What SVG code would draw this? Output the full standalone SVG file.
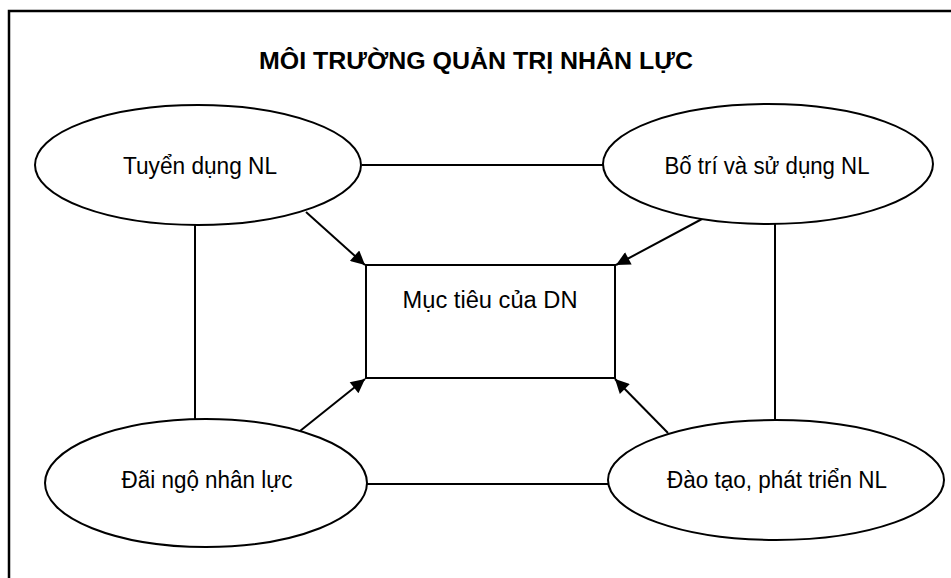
<svg xmlns="http://www.w3.org/2000/svg" width="951" height="578" viewBox="0 0 951 578">
<style>
  .shape { fill: #fff; stroke: #000; stroke-width: 2; }
  .lbl { font-family: "Liberation Sans", Arial, sans-serif; font-size: 23px; fill: #000; text-anchor: middle; }
  .title { font-family: "Liberation Sans", Arial, sans-serif; font-size: 24px; font-weight: bold; fill: #000; text-anchor: middle; }
  .conn { stroke: #000; stroke-width: 2; fill: none; }
</style>
<defs>
  <marker id="arr" viewBox="0 0 10 10" refX="10" refY="5" markerWidth="8" markerHeight="7" markerUnits="strokeWidth" orient="auto">
    <path d="M0,0 L10,5 L0,10 z" fill="#000"/>
  </marker>
</defs>
<rect width="951" height="578" fill="#fff"/>
<g id="frame">
  <path d="M9,578 L9,11 L951,11" fill="none" stroke="#000" stroke-width="2.5"/>
</g>
<text class="title" x="476" y="69" textLength="434" lengthAdjust="spacingAndGlyphs">MÔI TRƯỜNG QUẢN TRỊ NHÂN LỰC</text>
<g id="connectors">
  <line class="conn" x1="362" y1="165" x2="603" y2="165"/>
  <line class="conn" x1="367" y1="484" x2="608" y2="484"/>
  <line class="conn" x1="195" y1="224" x2="195" y2="420"/>
  <line class="conn" x1="775" y1="224" x2="775" y2="421"/>
  <line class="conn" x1="306" y1="212" x2="365" y2="265" marker-end="url(#arr)"/>
  <line class="conn" x1="702" y1="219" x2="616" y2="265" marker-end="url(#arr)"/>
  <line class="conn" x1="300" y1="431" x2="365" y2="379" marker-end="url(#arr)"/>
  <line class="conn" x1="668" y1="433" x2="615" y2="379" marker-end="url(#arr)"/>
</g>
<g id="n-tuyendung">
  <ellipse class="shape" cx="198" cy="165" rx="163" ry="60"/>
  <text class="lbl" x="200" y="174" textLength="154" lengthAdjust="spacingAndGlyphs">Tuyển dụng NL</text>
</g>
<g id="n-botri">
  <ellipse class="shape" cx="768" cy="164" rx="165" ry="60"/>
  <text class="lbl" x="767" y="174" textLength="205" lengthAdjust="spacingAndGlyphs">Bố trí và sử dụng NL</text>
</g>
<g id="n-daingo">
  <ellipse class="shape" cx="206" cy="483" rx="161" ry="64"/>
  <text class="lbl" x="207" y="488" textLength="171" lengthAdjust="spacingAndGlyphs">Đãi ngộ nhân lực</text>
</g>
<g id="n-daotao">
  <ellipse class="shape" cx="776" cy="480" rx="168" ry="60"/>
  <text class="lbl" x="777" y="488" textLength="220" lengthAdjust="spacingAndGlyphs">Đào tạo, phát triển NL</text>
</g>
<g id="n-muctieu">
  <rect class="shape" x="366" y="265" width="249" height="113"/>
  <text class="lbl" x="490" y="308" textLength="175" lengthAdjust="spacingAndGlyphs">Mục tiêu của DN</text>
</g>
</svg>
